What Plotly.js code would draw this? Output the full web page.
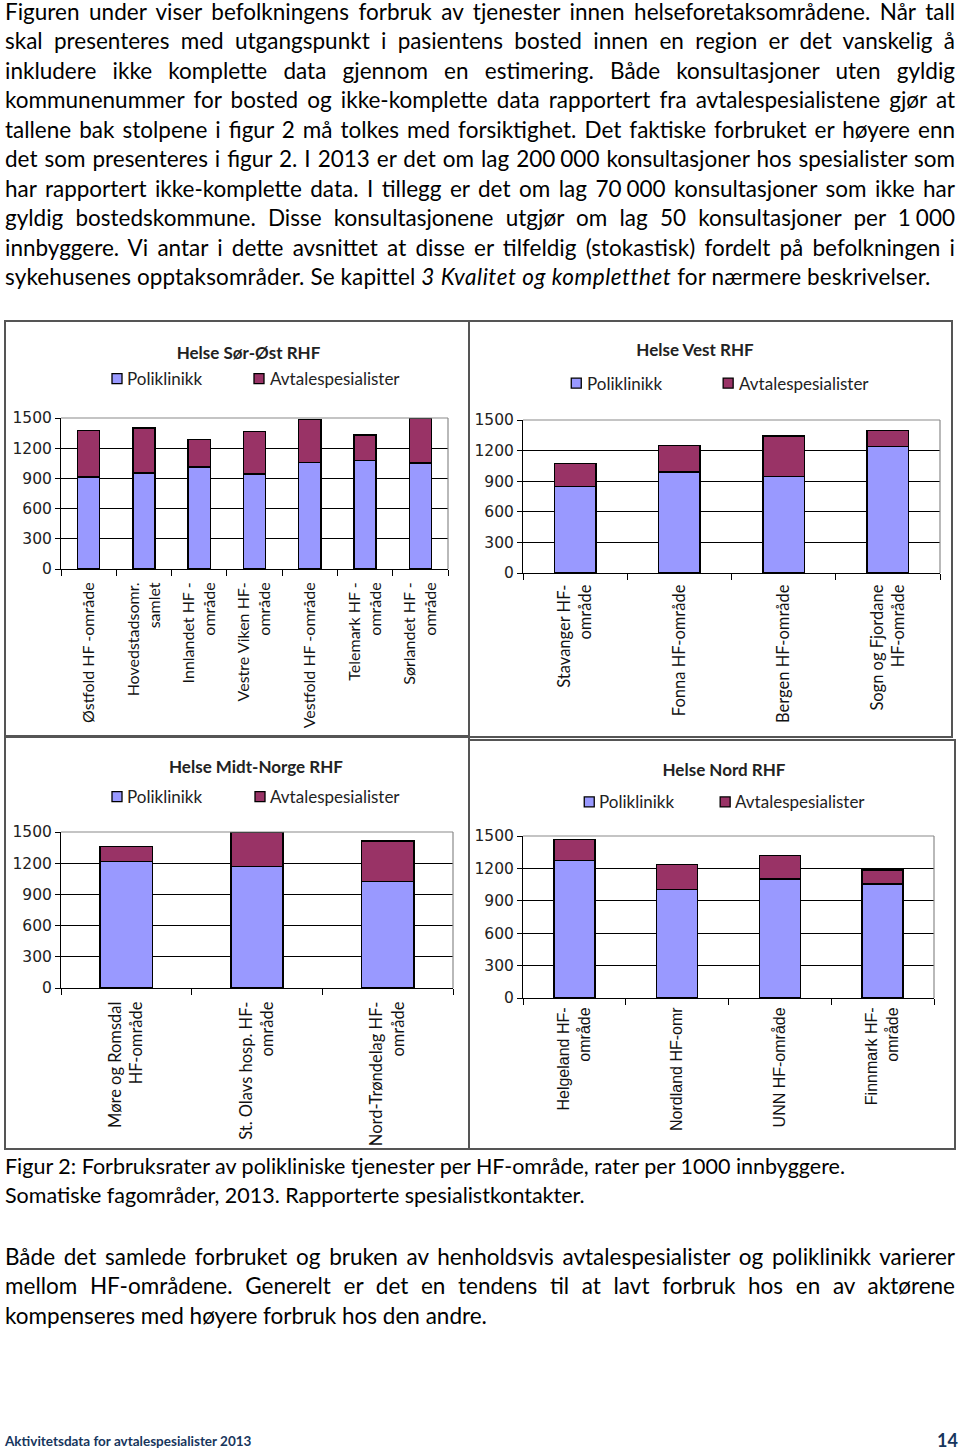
<!DOCTYPE html>
<html>
<head>
<meta charset="utf-8">
<script src="https://cdn.plot.ly/plotly-3.0.1.min.js"></script>
<style>
  html,body{margin:0;padding:0;background:#fff;}
  body{position:relative;width:960px;height:1451px;overflow:hidden;}
  .para{position:absolute;left:5px;width:950px;font-family:Lato,"Noto Sans",sans-serif;font-size:22.5px;line-height:29.45px;color:#000;}
  .para div{white-space:normal;}
  .j{text-align:justify;text-align-last:justify;}
  .l{text-align:left;}
  .ns{display:inline-block;width:0.22em;}
  .panel{position:absolute;}
  .frame{position:absolute;border:2px solid #555;box-sizing:border-box;pointer-events:none;}
  #foot{position:absolute;left:5px;top:1431px;font-family:Lato,sans-serif;font-weight:bold;font-size:13.5px;color:#17365D;line-height:20px;}
  #pnum{position:absolute;right:2px;top:1428px;font-family:Lato,sans-serif;font-weight:bold;font-size:18px;color:#17365D;line-height:24px;}
</style>
</head>
<body>

<div class="para" style="top:-3px">
  <div class="j">Figuren under viser befolkningens forbruk av tjenester innen helseforetaksområdene. Når tall</div>
  <div class="j">skal presenteres med utgangspunkt i pasientens bosted innen en region er det vanskelig å</div>
  <div class="j">inkludere ikke komplette data gjennom en estimering. Både konsultasjoner uten gyldig</div>
  <div class="j">kommunenummer for bosted og ikke-komplette data rapportert fra avtalespesialistene gjør at</div>
  <div class="j">tallene bak stolpene i figur 2 må tolkes med forsiktighet. Det faktiske forbruket er høyere enn</div>
  <div class="j">det som presenteres i figur 2. I 2013 er det om lag 200<span class="ns"></span>000 konsultasjoner hos spesialister som</div>
  <div class="j">har rapportert ikke-komplette data. I tillegg er det om lag 70<span class="ns"></span>000 konsultasjoner som ikke har</div>
  <div class="j">gyldig bostedskommune. Disse konsultasjonene utgjør om lag 50 konsultasjoner per 1<span class="ns"></span>000</div>
  <div class="j">innbyggere. Vi antar i dette avsnittet at disse er tilfeldig (stokastisk) fordelt på befolkningen i</div>
  <div class="l" style="letter-spacing:0.12px">sykehusenes opptaksområder. Se kapittel <i style="letter-spacing:0.55px">3 Kvalitet og kompletthet</i> for nærmere beskrivelser.</div>
</div>

<div id="c1" class="panel"></div>
<div id="c2" class="panel"></div>
<div id="c3" class="panel"></div>
<div id="c4" class="panel"></div>
<div id="f1" class="frame"></div>
<div id="f2" class="frame"></div>
<div id="f3" class="frame"></div>
<div id="f4" class="frame"></div>

<div class="para" style="top:1152px;font-size:21.5px;">
  <div class="l">Figur 2: Forbruksrater av polikliniske tjenester per HF-område, rater per 1000 innbyggere.</div>
  <div class="l">Somatiske fagområder, 2013. Rapporterte spesialistkontakter.</div>
</div>

<div class="para" style="top:1242px">
  <div class="j">Både det samlede forbruket og bruken av henholdsvis avtalespesialister og poliklinikk varierer</div>
  <div class="j">mellom HF-områdene. Generelt er det en tendens til at lavt forbruk hos en av aktørene</div>
  <div class="l">kompenseres med høyere forbruk hos den andre.</div>
</div>

<div id="foot">Aktivitetsdata for avtalespesialister 2013</div>
<div id="pnum">14</div>

<script>
// ---------- DATA ----------
const seriesNames = ["Poliklinikk", "Avtalespesialister"];

const sorOstTitle = "Helse Sør-Øst RHF";
const sorOstCats = ["Østfold HF -område", "Hovedstadsomr.<br>samlet", "Innlandet HF -<br>område", "Vestre Viken HF-<br>område", "Vestfold HF -område", "Telemark HF -<br>område", "Sørlandet HF -<br>område"];
const sorOstPoli = [912, 955, 1015, 946, 1058, 1078, 1055];
const sorOstAvt  = [465, 448, 269, 421, 425, 252, 438];

const vestTitle = "Helse Vest RHF";
const vestCats = ["Stavanger HF-<br>område", "Fonna HF-område", "Bergen HF-område", "Sogn og Fjordane<br>HF-område"];
const vestPoli = [848, 988, 946, 1239];
const vestAvt  = [228, 264, 397, 160];

const midtTitle = "Helse Midt-Norge RHF";
const midtCats = ["Møre og Romsdal<br>HF-område", "St. Olavs hosp. HF-<br>område", "Nord-Trøndelag HF-<br>område"];
const midtPoli = [1217, 1169, 1025];
const midtAvt  = [142, 328, 388];

const nordTitle = "Helse Nord RHF";
const nordCats = ["Helgeland HF-<br>område", "Nordland HF-omr", "UNN HF-område", "Finnmark HF-<br>område"];
const nordPoli = [1274, 1005, 1101, 1055];
const nordAvt  = [195, 229, 220, 130];

const yTicks = [0, 300, 600, 900, 1200, 1500];

// ---------- STYLE ----------
const colPoli = "#9999FF";
const colAvt = "#993366";

function makeChart(id, frameId, s) {
  const box = s.box, plot = s.plot;
  const l = plot.x0 - box.left, r = box.left + box.w - plot.x1;
  const t = plot.y0 - box.top, b = box.top + box.h - plot.y1;
  const W = plot.x1 - plot.x0, H = plot.y1 - plot.y0;
  const X = x => (x - plot.x0) / W;
  const Y = y => (plot.y1 - y) / H;

  const el = document.getElementById(id);
  el.style.left = box.left + "px"; el.style.top = box.top + "px";
  el.style.width = box.w + "px"; el.style.height = box.h + "px";
  const fr = document.getElementById(frameId);
  fr.style.left = box.left + "px"; fr.style.top = box.top + "px";
  fr.style.width = box.w + "px"; fr.style.height = box.h + "px";

  const traces = [
    {type: "bar", name: seriesNames[0], x: s.cats, y: s.poli,
     marker: {color: colPoli, line: {color: "#000", width: 1.5}}, hoverinfo: "skip"},
    {type: "bar", name: seriesNames[1], x: s.cats, y: s.avt,
     marker: {color: colAvt, line: {color: "#000", width: 1.5}}, hoverinfo: "skip"}
  ];

  const shapes = [
    {type: "line", xref: "paper", yref: "paper", x0: 0, x1: 1, y0: 1, y1: 1, line: {color: "#8a8a8a", width: 1.2}},
    {type: "line", xref: "paper", yref: "paper", x0: 1, x1: 1, y0: 0, y1: 1, line: {color: "#8a8a8a", width: 1.2}}
  ];
  const annotations = [];
  const legCols = [colPoli, colAvt];
  s.legend.forEach((lg, i) => {
    shapes.push({type: "rect", xref: "paper", yref: "paper",
      x0: X(lg.mx), x1: X(lg.mx + 10), y0: Y(s.legY + 5), y1: Y(s.legY - 5),
      fillcolor: legCols[i], line: {color: "#000", width: 1.3}});
    annotations.push({xref: "paper", yref: "paper", x: X(lg.tx), y: Y(s.legY),
      xanchor: "left", yanchor: "middle", showarrow: false, text: seriesNames[i],
      font: {family: "Lato, sans-serif", size: 17, color: "#222"}});
  });

  const layout = {
    width: box.w, height: box.h,
    margin: {l: l, r: r, t: t, b: b, pad: 0},
    paper_bgcolor: "#fff", plot_bgcolor: "#fff",
    barmode: "stack", bargap: 0.6, showlegend: false,
    title: {text: "<b>" + s.title + "</b>", xref: "container", yref: "container",
      x: (s.titleX - box.left) / box.w, xanchor: "center",
      y: 1 - (s.titleY - box.top) / box.h, yanchor: "middle",
      font: {family: "Lato, sans-serif", size: 17, color: "#222"}},
    xaxis: {type: "category", showline: true, linecolor: "#000", linewidth: 1,
      ticks: "outside", tickson: "boundaries", ticklen: 6, tickcolor: "#000", tickwidth: 1,
      tickangle: -90, showgrid: false, zeroline: false, fixedrange: true,
      ticklabelstandoff: s.xstand, tickfont: s.xfont},
    yaxis: {range: [0, 1500], tickvals: yTicks, ticktext: yTicks.map(String),
      showline: true, linecolor: "#000", linewidth: 1,
      ticks: "outside", ticklen: 5, tickcolor: "#000", tickwidth: 1,
      showgrid: true, gridcolor: "#000", gridwidth: 1, zeroline: false, fixedrange: true,
      tickfont: {family: "DejaVu Sans, sans-serif", size: 15.5, color: "#222"}},
    shapes: shapes, annotations: annotations
  };
  Plotly.newPlot(el, traces, layout, {staticPlot: true, displayModeBar: false});
}

makeChart("c1", "f1", {
  title: sorOstTitle, cats: sorOstCats, poli: sorOstPoli, avt: sorOstAvt,
  box: {left: 4, top: 320, w: 466, h: 417},
  plot: {x0: 61, x1: 448, y0: 418.3, y1: 569},
  titleX: 248.5, titleY: 353, legY: 379,
  legend: [{mx: 112, tx: 125}, {mx: 254, tx: 268}],
  xfont: {family: "Lato, sans-serif", size: 16, color: "#111"}, xstand: 6
});
makeChart("c2", "f2", {
  title: vestTitle, cats: vestCats, poli: vestPoli, avt: vestAvt,
  box: {left: 468, top: 320, w: 485, h: 418},
  plot: {x0: 522.7, x1: 940, y0: 420, y1: 573.3},
  titleX: 695, titleY: 350, legY: 383,
  legend: [{mx: 571, tx: 585}, {mx: 723, tx: 737}],
  xfont: {family: "Lato, sans-serif", size: 16.5, color: "#111"}, xstand: 4
});
makeChart("c3", "f3", {
  title: midtTitle, cats: midtCats, poli: midtPoli, avt: midtAvt,
  box: {left: 4, top: 736, w: 466, h: 414},
  plot: {x0: 61, x1: 453, y0: 832.3, y1: 988},
  titleX: 256, titleY: 767, legY: 797,
  legend: [{mx: 112, tx: 125}, {mx: 255, tx: 268}],
  xfont: {family: "Lato, sans-serif", size: 16.5, color: "#111"}, xstand: 6
});
makeChart("c4", "f4", {
  title: nordTitle, cats: nordCats, poli: nordPoli, avt: nordAvt,
  box: {left: 468, top: 739, w: 488, h: 411},
  plot: {x0: 522.7, x1: 934, y0: 836, y1: 997.7},
  titleX: 724, titleY: 770, legY: 802,
  legend: [{mx: 584, tx: 597}, {mx: 720, tx: 733}],
  xfont: {family: "Liberation Sans, Arial, sans-serif", size: 16, color: "#111"}, xstand: 2
});
</script>
</body>
</html>
